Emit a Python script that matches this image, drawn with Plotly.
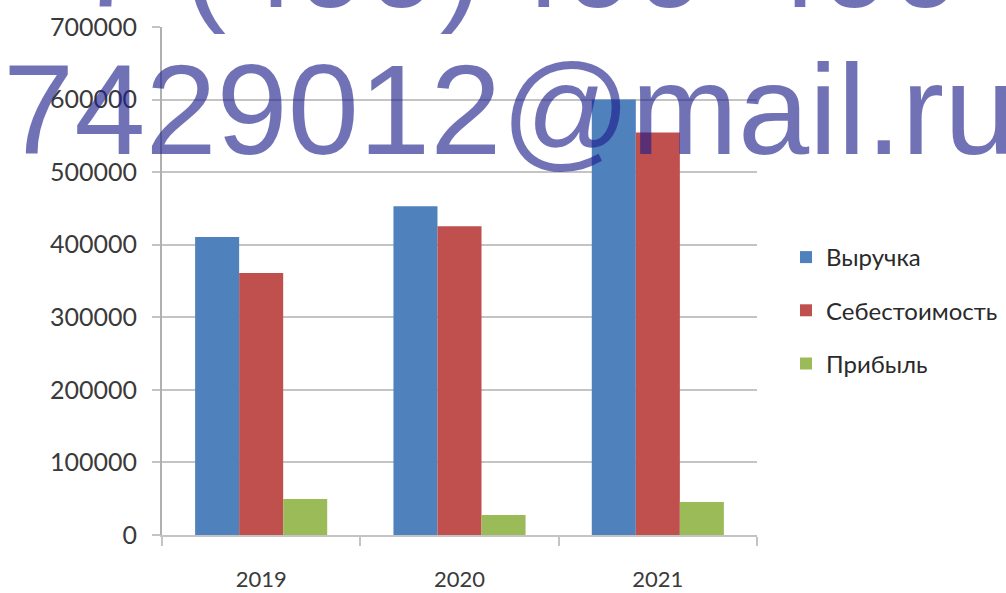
import plotly.graph_objects as go

years = ["2019", "2020", "2021"]
revenue = [410500, 453000, 600000]
cost = [361000, 425500, 554500]
profit = [49500, 27500, 45500]
series_names = ["Выручка", "Себестоимость", "Прибыль"]
series_colors = ["#4F81BD", "#C0504D", "#9BBB59"]
y_ticks = [0, 100000, 200000, 300000, 400000, 500000, 600000, 700000]

W, H = 1006, 593
L, R, T, B = 162, 757, 27, 535


def px2x(px):
    return (px - L) / (R - L)


def py2y(py):
    return (B - py) / (B - T)


fig = go.Figure()
for name, vals, col in zip(series_names, [revenue, cost, profit], series_colors):
    fig.add_trace(go.Bar(
        x=years, y=vals, name=name, legendgroup=name,
        marker=dict(color=col, line=dict(width=0)),
    ))

grid_col = "#c4c4c4"
tick_font = dict(family="Lato, Open Sans, sans-serif", color="#3a3a3a")

fig.update_layout(
    width=W, height=H,
    margin=dict(l=L, r=W - R, t=T, b=H - B, pad=0, autoexpand=False),
    paper_bgcolor="white", plot_bgcolor="white",
    barmode="group", bargap=0.334, bargroupgap=0,
    showlegend=True,
    legend=dict(
        x=px2x(786), y=py2y(235), xanchor="left", yanchor="top",
        font=dict(family="Lato, Open Sans, sans-serif", size=24, color="#2a2a2a"),
        tracegroupgap=19, bgcolor="rgba(0,0,0,0)",
    ),
    xaxis=dict(
        type="category", showgrid=False, automargin=False,
        showline=True, linecolor=grid_col, linewidth=2,
        ticks="outside", ticklen=9, tickcolor=grid_col, tickwidth=2,
        tickson="boundaries",
        tickfont=dict(size=22, **tick_font),
        ticklabelstandoff=24,
    ),
    yaxis=dict(
        range=[0, 700000], tickvals=y_ticks, ticktext=[str(v) for v in y_ticks],
        automargin=False,
        showgrid=True, gridcolor=grid_col, gridwidth=2,
        showline=True, linecolor="#b0b0b0", linewidth=2,
        ticks="outside", ticklen=8, tickcolor=grid_col, tickwidth=2,
        tickfont=dict(size=25, **tick_font),
        ticklabelstandoff=10, zeroline=False,
    ),
)

wm_color = "rgba(30,30,140,0.63)"
wm_font = "Liberation Sans, Arial, sans-serif"
wm_size = 128
watermarks = [
    ("+7 (499)", 0, 7),
    ("499-499", 492, 7),
    ("7429012@mail.ru", 1, 154),
]
for text, x0, base in watermarks:
    fig.add_annotation(
        text=text, xref="paper", yref="paper",
        x=px2x(x0), y=py2y(base - 0.35 * wm_size),
        xanchor="left", yanchor="middle", showarrow=False,
        font=dict(family=wm_font, size=wm_size, color=wm_color),
    )

fig.write_html(
    "out.html",
    config={"displayModeBar": False},
    post_script=(
        "document.body.style.margin='0';"
        "document.body.style.overflow='hidden';"
        "document.documentElement.style.overflow='hidden';"
        "document.getElementById('{plot_id}').style.overflow='hidden';"
    ),
)
